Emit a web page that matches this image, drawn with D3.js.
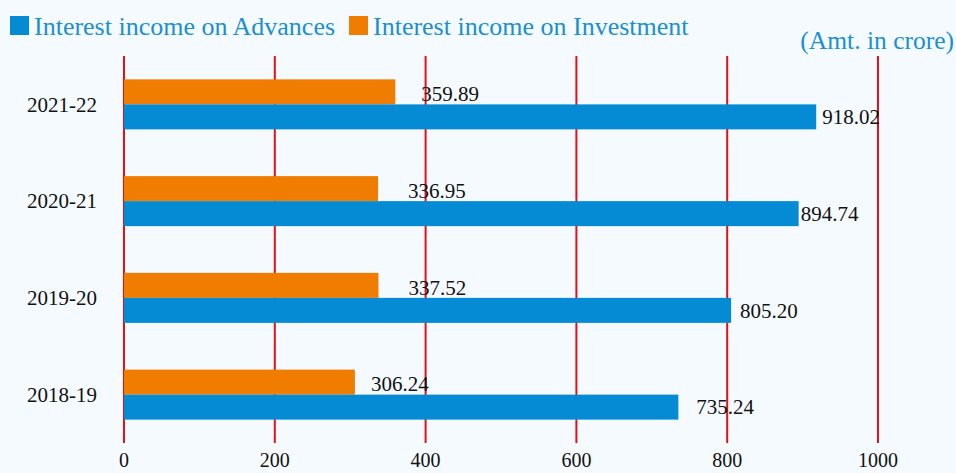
<!DOCTYPE html>
<html>
<head>
    <meta charset="utf-8">
    <script src="https://d3js.org/d3.v7.min.js"></script>
    <style>
        body {
            margin: 0;
            background: #f5fafe;
            font-family: 'Liberation Serif', 'DejaVu Serif', serif;
        }
        svg { display: block; }
    </style>
</head>
<body>
    <div id="chart"></div>
    <script>
        // data
        const years = ["2021-22", "2020-21", "2019-20", "2018-19"];
        const advances = [918.02, 894.74, 805.20, 735.24];
        const investment = [359.89, 336.95, 337.52, 306.24];
        const xTicks = [0, 200, 400, 600, 800, 1000];

        // label nudges (pixels past the bar end)
        const advNudge = [6, 2, 9, 18];
        const invNudge = [26, 30, 30, 16];

        const width = 956, height = 473;
        const margin = { top: 56, right: 78, bottom: 30, left: 124 };

        const svg = d3.select("#chart")
            .append("svg")
            .attr("width", width)
            .attr("height", height);

        const x = d3.scaleLinear()
            .domain([0, 1000])
            .range([margin.left, width - margin.right]);

        const y = d3.scaleBand()
            .domain(years)
            .range([margin.top, height - margin.bottom]);

        const barH = 25;

        // gridlines
        svg.append("g")
            .selectAll("line")
            .data(xTicks)
            .join("line")
            .attr("x1", d => x(d))
            .attr("x2", d => x(d))
            .attr("y1", margin.top)
            .attr("y2", height - margin.bottom)
            .attr("stroke", "#e3101a")
            .attr("stroke-width", 2);

        // tick labels
        svg.append("g")
            .selectAll("text")
            .data(xTicks)
            .join("text")
            .attr("x", d => x(d))
            .attr("y", 467)
            .attr("text-anchor", "middle")
            .attr("font-size", 20)
            .attr("fill", "#111")
            .text(d => d);

        // category labels
        svg.append("g")
            .selectAll("text")
            .data(years)
            .join("text")
            .attr("x", margin.left - 27)
            .attr("y", d => y(d) + y.bandwidth() / 2)
            .attr("dy", "0.35em")
            .attr("text-anchor", "end")
            .attr("font-size", 21)
            .attr("fill", "#111")
            .text(d => d);

        const rows = years.map((yr, i) => ({ yr, adv: advances[i], inv: investment[i], i }));

        // orange bars (investment) on top
        svg.append("g")
            .selectAll("rect")
            .data(rows)
            .join("rect")
            .attr("x", x(0))
            .attr("y", d => y(d.yr) + y.bandwidth() / 2 - barH)
            .attr("width", d => x(d.inv) - x(0))
            .attr("height", barH)
            .attr("fill", "#f07c00");

        // blue bars (advances) below
        svg.append("g")
            .selectAll("rect")
            .data(rows)
            .join("rect")
            .attr("x", x(0))
            .attr("y", d => y(d.yr) + y.bandwidth() / 2)
            .attr("width", d => x(d.adv) - x(0))
            .attr("height", barH)
            .attr("fill", "#058bd3");

        // value labels
        svg.append("g")
            .selectAll("text")
            .data(rows)
            .join("text")
            .attr("x", d => x(d.inv) + invNudge[d.i])
            .attr("y", d => y(d.yr) + y.bandwidth() / 2 - barH / 2 + 2)
            .attr("dy", "0.35em")
            .attr("font-size", 21)
            .attr("fill", "#111")
            .text(d => d.inv.toFixed(2));

        svg.append("g")
            .selectAll("text")
            .data(rows)
            .join("text")
            .attr("x", d => x(d.adv) + advNudge[d.i])
            .attr("y", d => y(d.yr) + y.bandwidth() / 2 + barH / 2)
            .attr("dy", "0.35em")
            .attr("font-size", 21)
            .attr("fill", "#111")
            .text(d => d.adv.toFixed(2));

        // legend
        const legendItems = [
            { name: "Interest income on Advances", color: "#058bd3", x: 10 },
            { name: "Interest income on Investment", color: "#f07c00", x: 349 }
        ];
        const lg = svg.append("g")
            .selectAll("g")
            .data(legendItems)
            .join("g")
            .attr("transform", d => `translate(${d.x},16)`);
        lg.append("rect")
            .attr("width", 19)
            .attr("height", 19)
            .attr("fill", d => d.color);
        lg.append("text")
            .attr("x", 24)
            .attr("y", 19)
            .attr("font-size", 26)
            .attr("fill", "#1a8fd3")
            .text(d => d.name);

        svg.append("text")
            .attr("x", 954)
            .attr("y", 49)
            .attr("text-anchor", "end")
            .attr("font-size", 25.5)
            .attr("fill", "#1a8fd3")
            .text("(Amt. in crore)");
    </script>
</body>
</html>
